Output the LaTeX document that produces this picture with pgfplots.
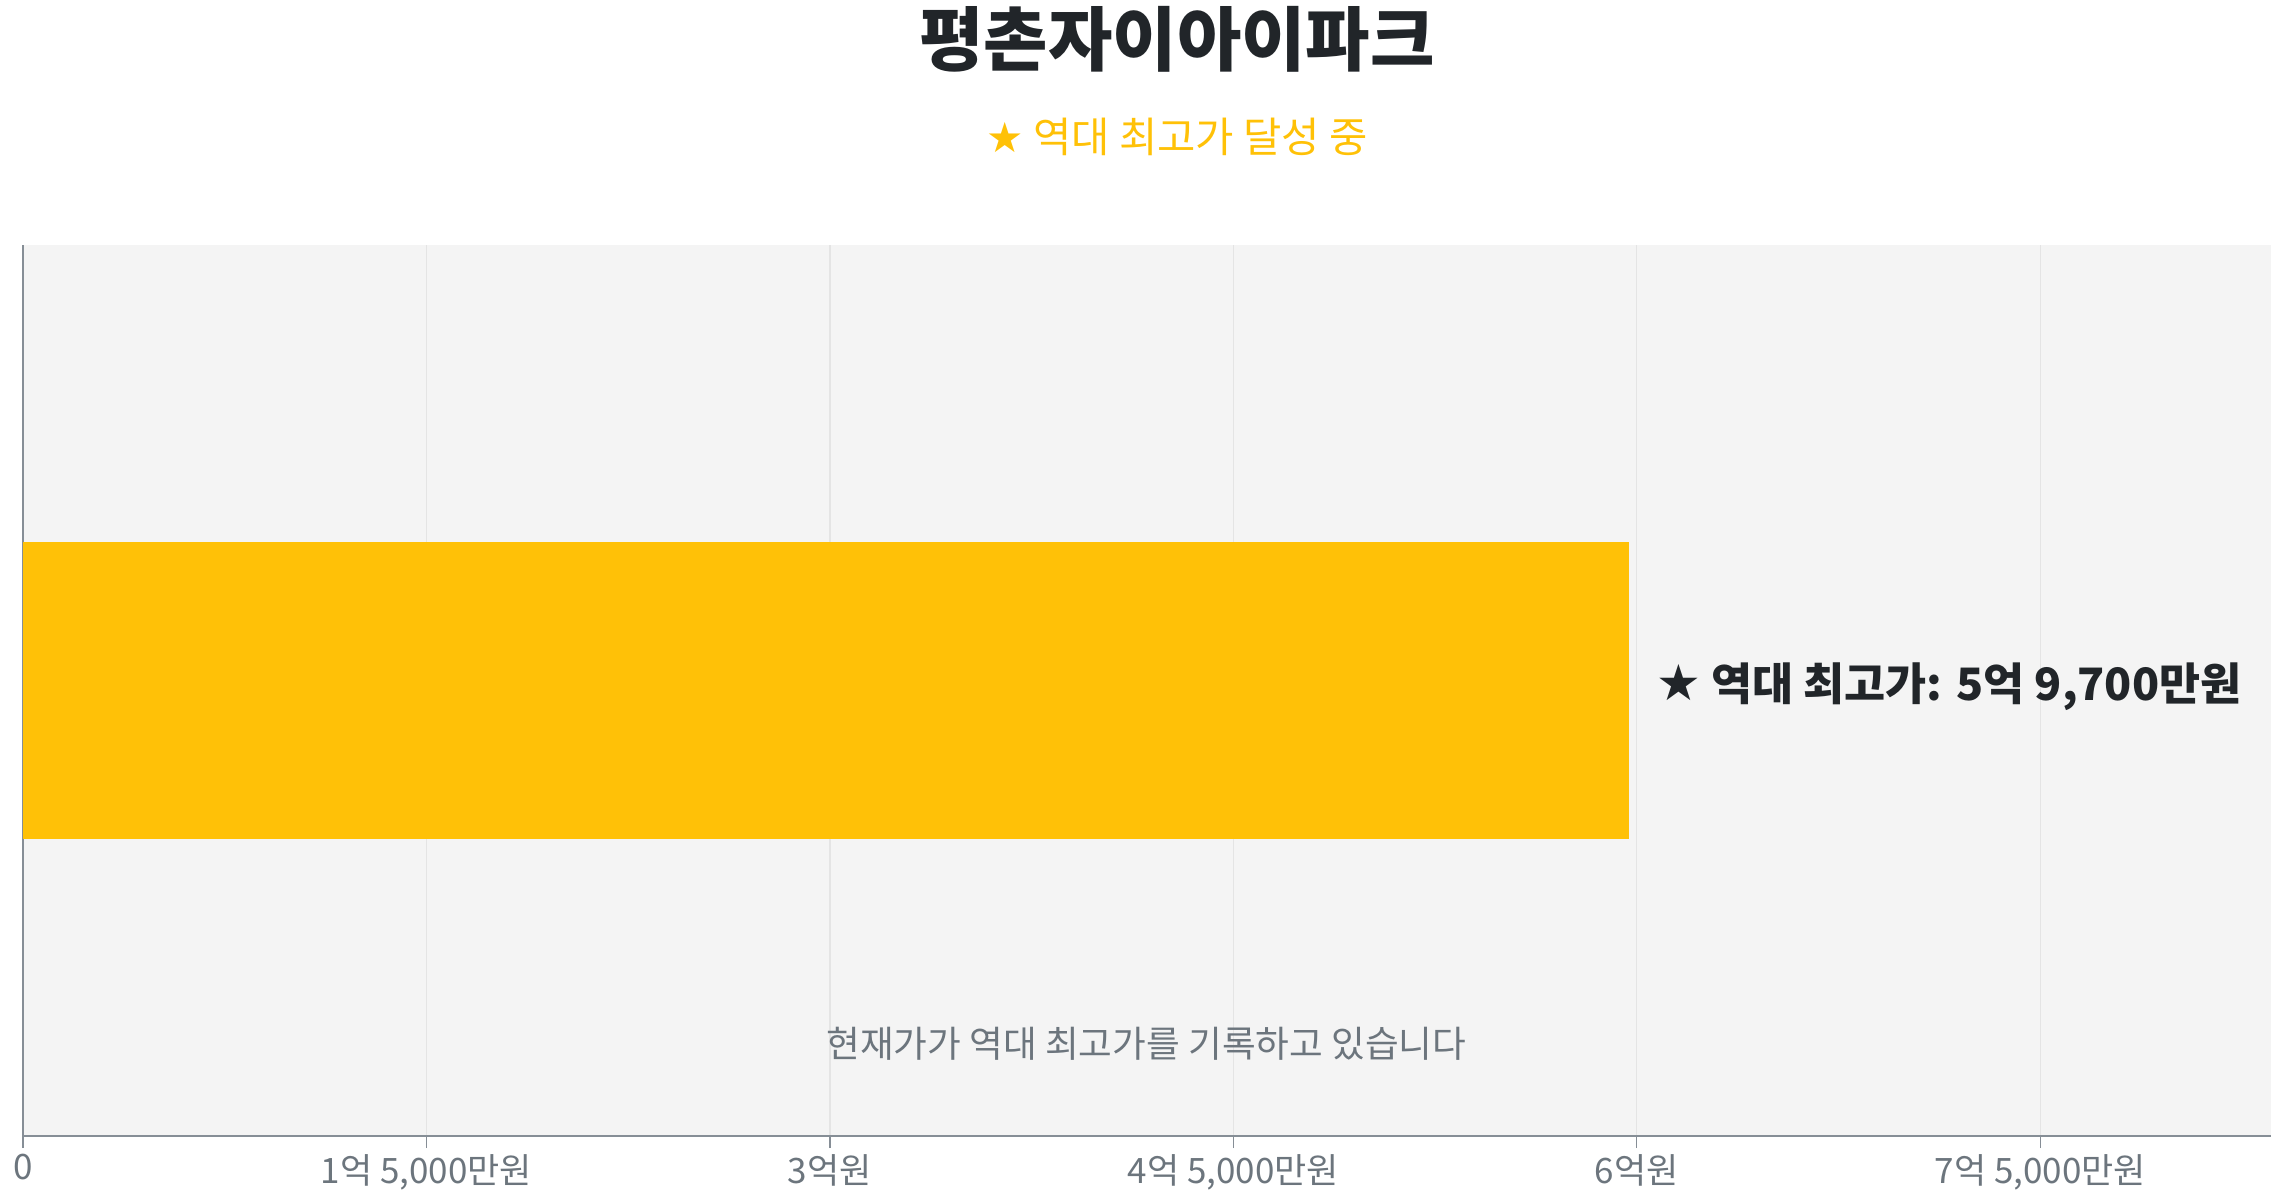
\documentclass[border=0pt]{standalone}
\usepackage{fontspec}
\setmainfont{Noto Sans CJK KR}
\newfontfamily\symb{DejaVu Sans}
\usepackage{pgfplots}
\pgfplotsset{compat=1.18}

\definecolor{barcol}{HTML}{FFC107}
\definecolor{titlecol}{HTML}{212529}
\definecolor{graytxt}{HTML}{6C757D}
\definecolor{axcol}{HTML}{868E96}
\definecolor{bgcol}{HTML}{F4F4F4}
\definecolor{gridcol}{HTML}{E4E4E4}

\begin{document}
\begin{tikzpicture}
\begin{axis}[
    at={(0,0)}, anchor=south west,
    scale only axis,
    width=674.4pt, height=267.3pt,
    xmin=0, xmax=8.358,
    ymin=0, ymax=1,
    xbar, bar width=89.1pt,
    axis background/.style={fill=bgcol},
    axis x line*=bottom, axis y line*=left,
    axis line style={axcol, line width=0.6pt},
    xtick={0,1.5,3,4.5,6,7.5},
    xticklabels={0, {1억 5,000만원}, 3억원, {4억 5,000만원}, 6억원, {7억 5,000만원}},
    ytick=\empty,
    xmajorgrids, grid style={gridcol, line width=0.4pt},
    tick align=outside, major tick length=3.6pt,
    tick style={axcol, line width=0.4pt},
    xticklabel style={font=\fontsize{10.5}{12}\selectfont, text=graytxt, yshift=1.6pt},
    clip=false,
]
\addplot[fill=barcol, draw=none] coordinates {(5.97,0.5)};

\node[font=\fontsize{21}{24}\selectfont\bfseries, text=titlecol]
  at (axis cs:4.291,1.231) {평촌자이아이파크};
\node[font=\fontsize{12.5}{14}\selectfont, text=barcol]
  at (axis cs:4.291,1.121) {{\symb ★} 역대 최고가 달성 중};
\node[font=\fontsize{13.4}{15}\selectfont\bfseries, text=titlecol, anchor=west, inner sep=0pt]
  at (axis cs:6.07,0.504) {{\symb\fontsize{15}{15}\selectfont ★} 역대 최고가: 5억 9,700만원};
\node[font=\fontsize{11}{13}\selectfont, text=graytxt]
  at (axis cs:4.177,0.103) {현재가가 역대 최고가를 기록하고 있습니다};
\end{axis}
\pgfresetboundingbox
\useasboundingbox (-6.9pt,-19.2pt) rectangle (679.2pt,340.8pt);
\end{tikzpicture}
\end{document}
